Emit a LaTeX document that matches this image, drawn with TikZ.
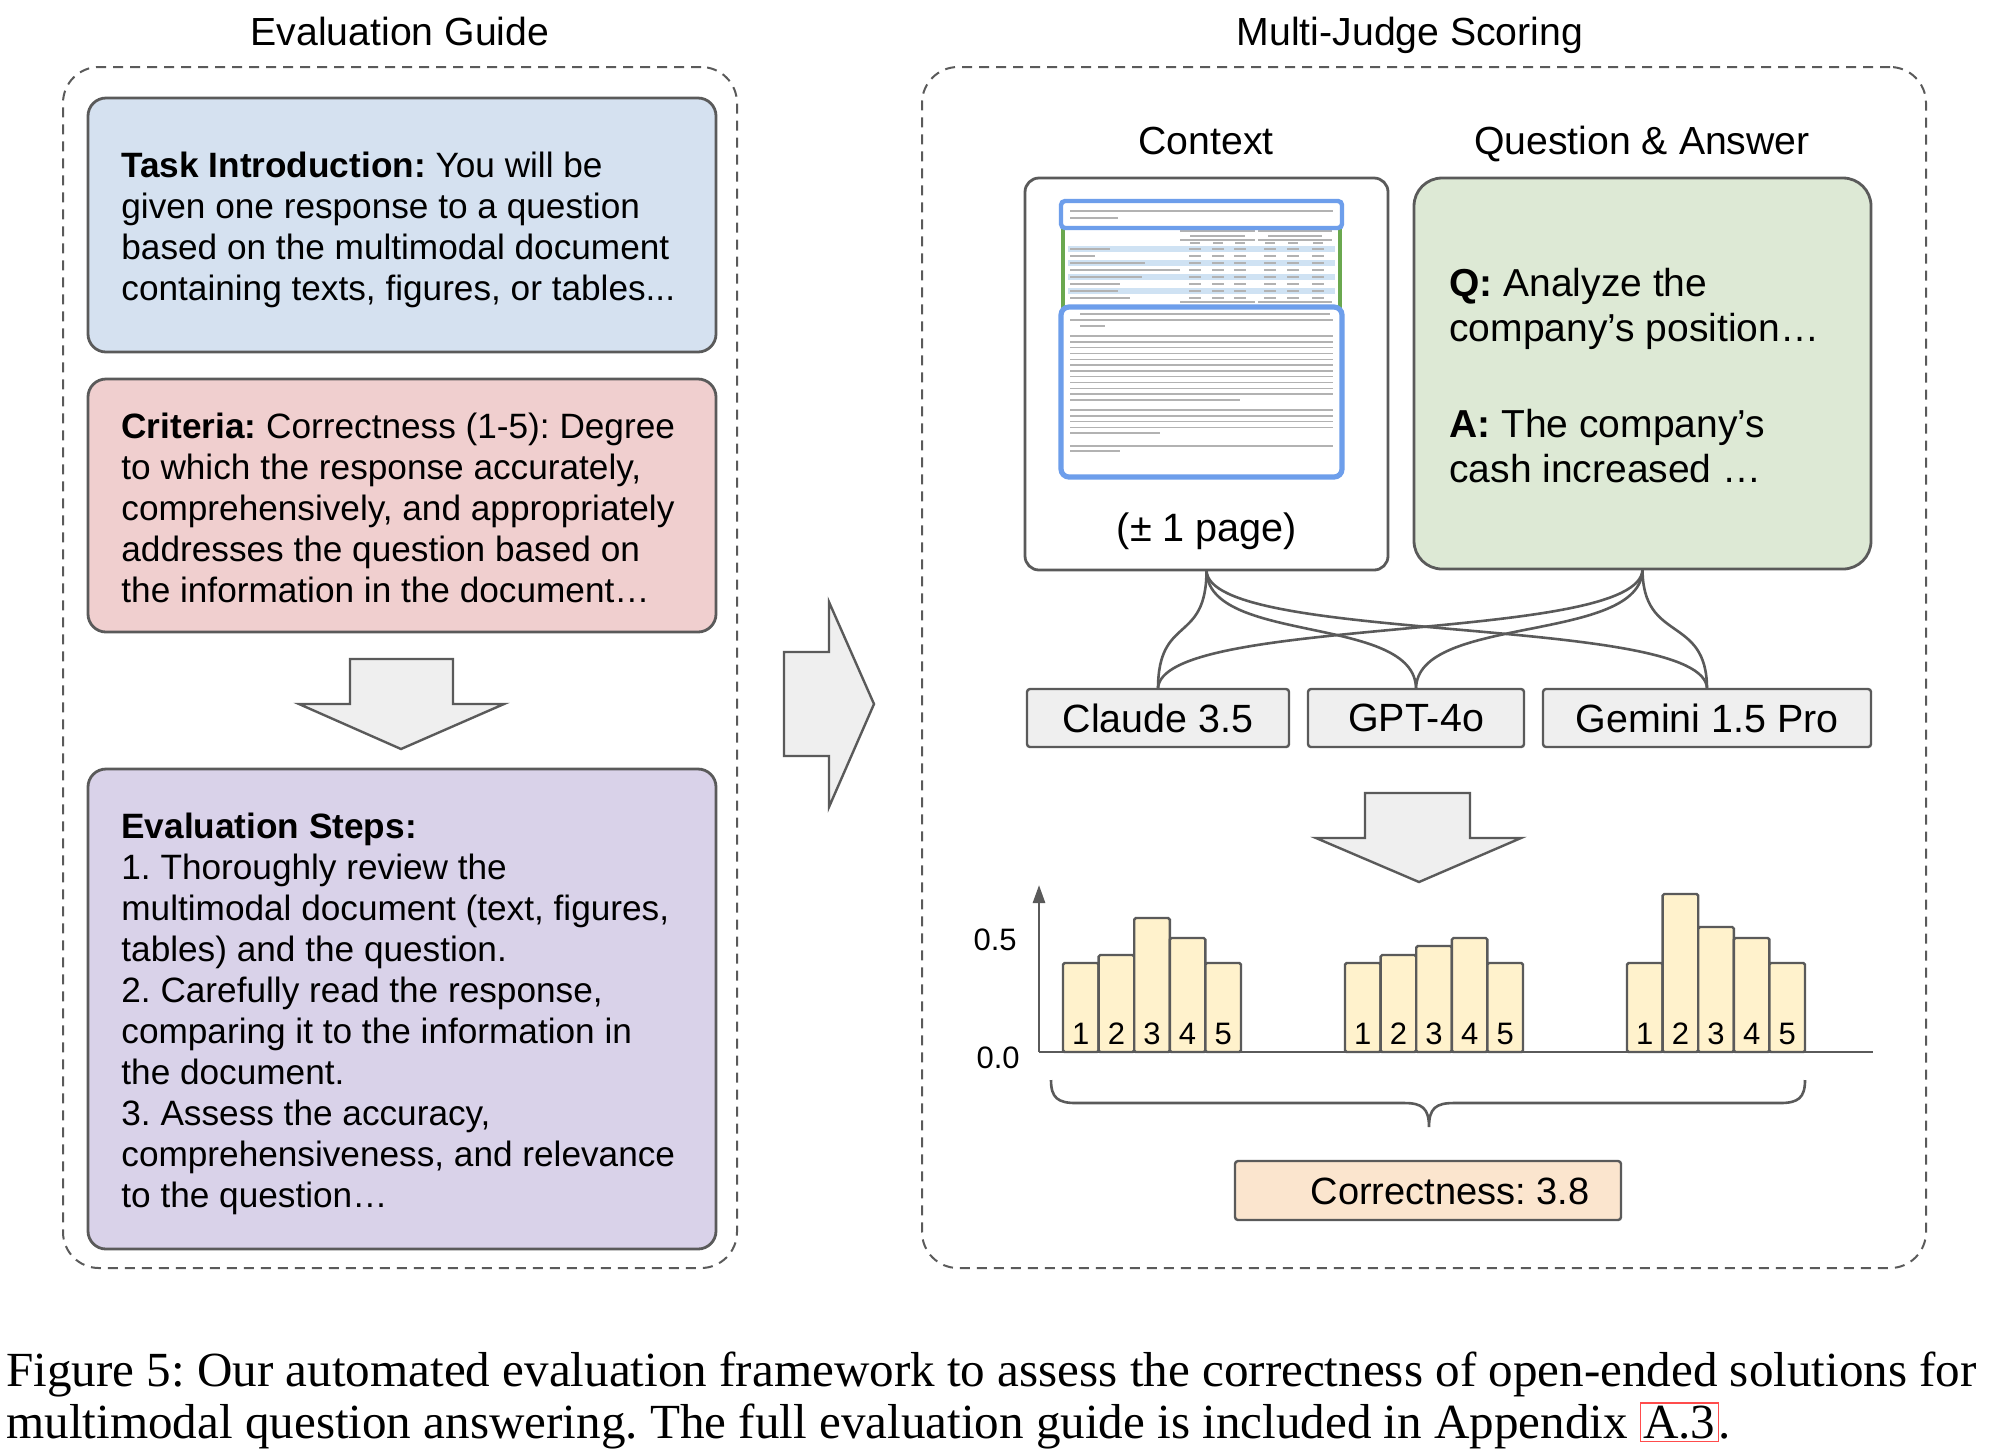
\documentclass[tikz,border=0pt]{standalone}
\usepackage{fontspec}
\setmainfont{Liberation Sans}
\newfontfamily\capfont{Liberation Serif}
\usetikzlibrary{arrows.meta,calc}
\frenchspacing
\definecolor{strk}{HTML}{5A5A5A}
\definecolor{cblue}{HTML}{D5E1F0}
\definecolor{cpink}{HTML}{F0CFCF}
\definecolor{cpurp}{HTML}{D9D2E9}
\definecolor{cgreen}{HTML}{DDE9D5}
\definecolor{cgray}{HTML}{EFEFEF}
\definecolor{cbar}{HTML}{FFF2CC}
\definecolor{corange}{HTML}{FBE5CE}
\definecolor{docblue}{HTML}{6D9EEB}
\definecolor{docgreen}{HTML}{6AA84F}
\definecolor{stripe}{HTML}{CFE2F3}
\tikzset{
  frame/.style={draw=strk, line width=1pt, dash pattern=on 5pt off 3.5pt, rounded corners=18pt, inner sep=0pt, outer sep=0pt},
  card/.style={draw=strk, line width=1.4pt, rounded corners=9pt, inner sep=0pt, outer sep=0pt},
  model/.style={draw=strk, line width=1.2pt, fill=cgray, rounded corners=1.5pt, inner sep=0pt, outer sep=0pt, minimum height=29pt, font=\fontsize{19.7}{22}\selectfont},
  btxt/.style={anchor=north west, inner sep=0pt, align=left, font=\fontsize{17.6}{20.5}\selectfont},
  qtxt/.style={anchor=north west, inner sep=0pt, align=left, font=\fontsize{19.5}{22.5}\selectfont},
  ttl/.style={anchor=base, inner sep=0pt, font=\fontsize{19.6}{22}\selectfont},
  blockarrow/.style={draw=strk, line width=1.2pt, fill=cgray, line join=miter},
  conn/.style={draw=strk, line width=1.3pt},
  bar/.style={draw=strk, line width=1.2pt, fill=cbar, rounded corners=0.8pt},
  barlbl/.style={inner sep=0pt, font=\fontsize{15.5}{18}\selectfont},
  txtl/.style={draw=gray!60, line width=0.7pt},
  caption/.style={anchor=base west, inner sep=0pt, font=\capfont\fontsize{24.55}{27}\selectfont}
}
\begin{document}
\begin{tikzpicture}[x=0.5pt,y=-0.5pt]
\useasboundingbox (0,0) rectangle (1990,1448);

% ---------- titles ----------
\node[ttl] (tleft) at (400,45) {Evaluation Guide};
\node[ttl] (tright) at (1410,45) {Multi-Judge Scoring};

% ---------- frames ----------
\node[frame, minimum width=337pt, minimum height=600.5pt] (lframe) at (400,667.5) {};
\node[frame, minimum width=502pt, minimum height=600.5pt] (rframe) at (1424,667.5) {};

% ---------- left column ----------
\node[card, fill=cblue, minimum width=314pt, minimum height=127pt] (task) at (402,225) {};
\node[btxt] (tasktxt) at (121,152) {\textbf{Task Introduction:} You will be\\given one response to a question\\based on the multimodal document\\containing texts, figures, or tables...};

\node[card, fill=cpink, minimum width=314pt, minimum height=126.5pt] (crit) at (402,505.5) {};
\node[btxt] (crittxt) at (121,413) {\textbf{Criteria:} Correctness (1-5): Degree\\to which the response accurately,\\comprehensively, and appropriately\\addresses the question based on\\the information in the document…};

\draw[blockarrow] (350,659) -- (453,659) -- (453,704) -- (504,704) -- (401,749) -- (299,704) -- (350,704) -- cycle;

\node[card, fill=cpurp, minimum width=314pt, minimum height=240pt] (steps) at (402,1009) {};
\node[btxt] (stepstxt) at (121,813) {\textbf{Evaluation Steps:}\\1. Thoroughly review the\\multimodal document (text, figures,\\tables) and the question.\\2. Carefully read the response,\\comparing it to the information in\\the document.\\3. Assess the accuracy,\\comprehensiveness, and relevance\\to the question…};

% ---------- middle arrow ----------
\draw[blockarrow] (784,652) -- (829,652) -- (829,602) -- (874,704) -- (829,807) -- (829,756) -- (784,756) -- cycle;

% ---------- right column ----------
\node[ttl] (lctx) at (1206,154) {Context};
\node[ttl] (lqa) at (1642,154) {Question \& Answer};

\node[card, fill=white, rounded corners=7pt, minimum width=181.5pt, minimum height=196pt] (ctx) at (1206.5,374) {};
\node[card, fill=cgreen, rounded corners=14pt, minimum width=228.5pt, minimum height=195.5pt] (qa) at (1642.5,373.5) {};

% document thumbnail
\draw[docgreen, line width=2pt] (1063,224) rectangle (1340,310);
\foreach \yy in {249,263,277,291} {\fill[stripe] (1068,\yy-3) rectangle (1335,\yy+3);}
\draw[txtl] (1180,231) -- (1255,231); \draw[txtl] (1258,231) -- (1332,231);
\draw[txtl] (1190,236) -- (1245,236); \draw[txtl] (1268,236) -- (1322,236);
\draw[txtl] (1180,240) -- (1255,240); \draw[txtl] (1258,240) -- (1332,240);
\foreach \xx in {1195,1218,1240,1270,1293,1318} {\draw[txtl] (\xx-5,243) -- (\xx+5,243);}
\foreach \yy/\ww in {249/1110,256/1095,263/1145,270/1180,277/1142,284/1120,291/1118,298/1130} {
  \draw[txtl] (1070,\yy) -- (\ww,\yy);
  \foreach \xx in {1195,1218,1240,1270,1293,1318} {\draw[txtl] (\xx-6,\yy) -- (\xx+6,\yy);}
}
\draw[txtl] (1180,302) -- (1255,302); \draw[txtl] (1258,302) -- (1332,302);
\draw[docblue, line width=2.2pt, fill=white, rounded corners=2pt] (1061,201) rectangle (1342,228);
\draw[txtl] (1070,211) -- (1333,211); \draw[txtl] (1070,218) -- (1118,218);
\draw[docblue, line width=2.6pt, fill=white, rounded corners=4pt] (1061,307) rectangle (1342,477);
\draw[txtl] (1080,314) -- (1330,314); \draw[txtl] (1070,320) -- (1333,320); \draw[txtl] (1080,326) -- (1105,326);
\foreach \k in {0,...,10} {\draw[txtl] (1070,{336+\k*5.8}) -- (1333,{336+\k*5.8});}
\draw[txtl] (1070,400) -- (1240,400);
\foreach \k in {0,...,3} {\draw[txtl] (1070,{410+\k*5.8}) -- (1333,{410+\k*5.8});}
\draw[txtl] (1070,433) -- (1160,433);
\draw[txtl] (1070,446) -- (1333,446); \draw[txtl] (1070,451) -- (1120,451);

\node[inner sep=0pt, font=\fontsize{19.8}{22}\selectfont] (page) at (1207,531) {(± 1 page)};

\node[qtxt] (qtxt) at (1449,268) {\textbf{Q:} Analyze the\\company’s position…};
\node[qtxt] (atxt) at (1449,409) {\textbf{A:} The company's\\cash increased …};

% models
\node[model, minimum width=131pt] (claude) at (1158,718) {Claude 3.5};
\node[model, minimum width=108pt] (gpt) at (1416,718) {GPT-4o};
\node[model, minimum width=164pt] (gemini) at (1707,718) {Gemini 1.5 Pro};

% connectors
\foreach \src in {ctx,qa} {
  \foreach \dst in {claude,gpt,gemini} {
    \draw[conn] (\src.south) .. controls +(0,75) and +(0,-75) .. (\dst.north);
  }
}

\draw[blockarrow] (1365,793) -- (1470,793) -- (1470,838) -- (1521,838) -- (1419,882) -- (1316,838) -- (1365,838) -- cycle;

% bar chart
\coordinate (origin) at (1039,1052);
\coordinate (ytop) at (1039,885);
\coordinate (xend) at (1873,1052);
\foreach \t [count=\i] in {963,955,918,938,963} {
  \draw[bar] ({1063+(\i-1)*35.6},1052) rectangle ({1063+\i*35.6},\t);
  \node[barlbl] (ga\i) at ({1063+(\i-0.5)*35.6},1034) {\i};
}
\foreach \t [count=\i] in {963,955,946,938,963} {
  \draw[bar] ({1345+(\i-1)*35.6},1052) rectangle ({1345+\i*35.6},\t);
  \node[barlbl] (gb\i) at ({1345+(\i-0.5)*35.6},1034) {\i};
}
\foreach \t [count=\i] in {963,894,927,938,963} {
  \draw[bar] ({1627+(\i-1)*35.6},1052) rectangle ({1627+\i*35.6},\t);
  \node[barlbl] (gc\i) at ({1627+(\i-0.5)*35.6},1034) {\i};
}
\draw[strk, line width=1.4pt, -{Triangle[length=9pt,width=6pt]}] (origin) -- (ytop);
\draw[strk, line width=1.4pt] (origin) -- (xend);
\node[barlbl, anchor=east] (yl5) at (1017,940) {0.5};
\node[barlbl, anchor=east] (yl0) at (1020,1058) {0.0};

% brace
\draw[strk, line width=1.3pt]
  (1051,1080) .. controls (1051,1098) and (1058,1103) .. (1076,1103) -- (1404,1103)
  .. controls (1422,1103) and (1429,1108) .. (1429,1127)
  .. controls (1429,1108) and (1436,1103) .. (1454,1103) -- (1780,1103)
  .. controls (1798,1103) and (1805,1098) .. (1805,1080);

\node[model, fill=corange, minimum width=193pt, minimum height=29.5pt] (corr) at (1428,1190.5) {};
\node[inner sep=0pt, font=\fontsize{19}{22}\selectfont] (corrtxt) at (1450,1191) {Correctness: 3.8};

% caption
\node[caption] (cap1) at (6,1386) {Figure 5: Our automated evaluation framework to assess the correctness of open-ended solutions for};
\node[caption] (cap2) at (6,1438) {multimodal question answering. The full evaluation guide is included in Appendix {\setlength{\fboxsep}{1pt}\setlength{\fboxrule}{0.6pt}\fcolorbox{red!70}{white}{A.3}}.};
\end{tikzpicture}
\end{document}
